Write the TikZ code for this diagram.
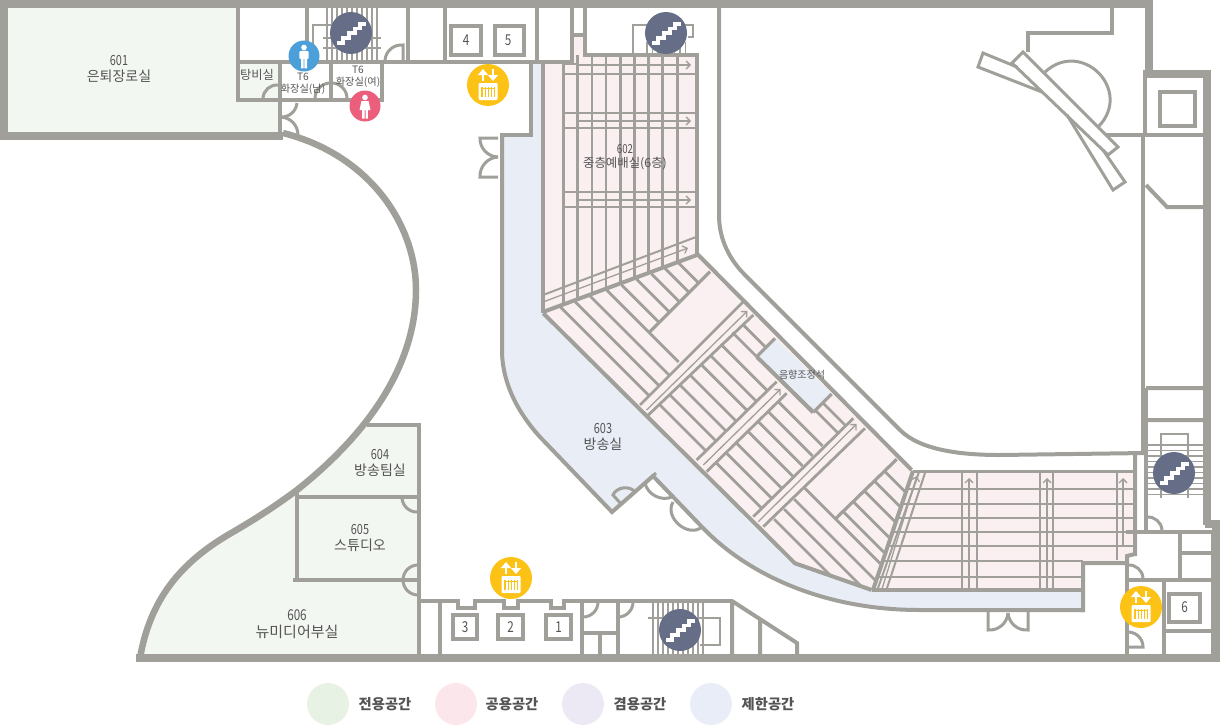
\documentclass[tikz,border=0pt]{standalone}
\usepackage{fontspec}
\setmainfont{Noto Sans CJK KR}
\newfontfamily\numfont[FakeStretch=0.78]{Noto Sans CJK KR}
\usetikzlibrary{arrows.meta}
\definecolor{wallgray}{rgb}{0.627, 0.624, 0.600}
\definecolor{textgray}{rgb}{0.33, 0.33, 0.33}
\definecolor{privatepale}{rgb}{0.953, 0.969, 0.945}
\definecolor{publicpale}{rgb}{0.984, 0.941, 0.945}
\definecolor{closedpale}{rgb}{0.910, 0.929, 0.965}
\definecolor{privatekey}{rgb}{0.910, 0.949, 0.894}
\definecolor{publickey}{rgb}{0.984, 0.902, 0.925}
\definecolor{sharedkey}{rgb}{0.925, 0.914, 0.957}
\definecolor{closedkey}{rgb}{0.910, 0.929, 0.969}
\definecolor{stairslate}{rgb}{0.400, 0.431, 0.529}
\definecolor{liftyellow}{rgb}{0.992, 0.761, 0.086}
\definecolor{manblue}{rgb}{0.298, 0.624, 0.851}
\definecolor{womanred}{rgb}{0.925, 0.373, 0.486}
\tikzset{
  outerwall/.style={draw=wallgray,line width=8pt},
  curvewall/.style={draw=wallgray,line width=6.5pt},
  midwall/.style={draw=wallgray,line width=4pt},
  thinwall/.style={draw=wallgray,line width=3pt},
  seatline/.style={draw=wallgray,line width=2.8pt},
  stairline/.style={draw=wallgray,line width=1.6pt},
  door/.style={draw=wallgray,line width=3pt},
  aislearrow/.style={draw=wallgray,line width=1.3pt,-{Straight Barb[length=4pt,width=8pt]}},
  roomlabel/.style={align=center,inner sep=0pt,text=textgray,font=\fontsize{14}{15.5}\selectfont},
  smalllabel/.style={align=center,inner sep=0pt,text=textgray,font=\fontsize{10.2}{11.5}\selectfont},
  keylabel/.style={inner sep=0pt,text=textgray,font=\fontsize{14.3}{15}\selectfont\bfseries},
  liftlabel/.style={inner sep=0pt,text=textgray,font=\fontsize{15}{15}\selectfont}
}
% Round marks, placed by their centre.
\newcommand{\stairmark}[2]{
  \begin{scope}[shift={(#1,#2)}]
    \fill[stairslate] (0,0) circle (21);
    \draw[white,line width=3.4pt] (-14,10)--(-8,10)--(-8,5)--(-2,5)--(-2,0)--(4,0)--(4,-4.5)--(9,-4.5)--(9,-9)--(15,-9);
  \end{scope}}
\newcommand{\liftmark}[2]{
  \begin{scope}[shift={(#1,#2)}]
    \fill[liftyellow] (0,0) circle (21);
    \draw[white,line width=2.8pt,-{Triangle[length=6pt,width=10pt]}] (-5,-4)--(-5,-16);
    \draw[white,line width=2.8pt,-{Triangle[length=6pt,width=10pt]}] (5,-16)--(5,-4);
    \fill[white,rounded corners=1pt] (-9.5,-2) rectangle (9.5,15);
    \fill[liftyellow] (-7,1.5) rectangle (7,12);
    \foreach \bx in {-5,-2,1,4}
      \fill[white] (\bx,4) rectangle ++(1.6,8);
    \foreach \bx in {-5,-2,1,4}
      \fill[white] (\bx,1.5) rectangle ++(1.6,1.2);
  \end{scope}}
\newcommand{\manmark}[2]{
  \begin{scope}[shift={(#1,#2)}]
    \fill[manblue] (0,0) circle (15.5);
    \fill[white] (0,-8.5) circle (2.8);
    \fill[white,rounded corners=1pt] (-4.6,-5) rectangle (4.6,3);
    \fill[white] (-3,2) rectangle (-0.4,12.5) (0.4,2) rectangle (3,12.5);
  \end{scope}}
\newcommand{\womanmark}[2]{
  \begin{scope}[shift={(#1,#2)}]
    \fill[womanred] (0,0) circle (15.5);
    \fill[white] (0,-8.5) circle (2.8);
    \fill[white] (-3.5,-5)--(3.5,-5)--(5.5,4)--(-5.5,4)--cycle;
    \fill[white] (-2.8,3) rectangle (-0.5,12.5) (0.5,3) rectangle (2.8,12.5);
  \end{scope}}
\begin{document}
\begin{tikzpicture}[x=1pt,y=-1pt]
	\useasboundingbox (0,0) rectangle (1220,725);

	% Room fills.
	\fill[privatepale] (8,8)--(236,8)--(236,100)--(280,100)--(280,132)--(8,132)--cycle;
	\fill[privatepale] (238,62) rectangle (280,100);
	\fill[privatepale] (419,425)--(367,425)--(297,490) .. controls (270,510) and (250,522) .. (233,532) .. controls (180,562) and (150,600) .. (140,658)--(419,655)--cycle;
	\fill[closedpale] (502,133)--(533,133)--(533,62)--(543,62)--(543,313)--(795,563)--(872,590)--(1082,590)--(1082,610)--(920,610) .. controls (820,610) and (745,572) .. (702,527)--(653,476)--(612,512)--(540,437) .. controls (520,415) and (502,385) .. (502,350)--cycle;
	\fill[publicpale] (543,62)--(572,62)--(572,35)--(585,35)--(585,55)--(697,55)--(697,255)--(912,470)--(1135,470)--(1135,555)--(1127,557)--(1127,563)--(1082,563)--(1082,590)--(872,590)--(795,563)--(543,313)--cycle;
	\fill[closedpale] (775,338)--(757,357)--(813,412)--(832,394)--cycle;

	% Seats of the upper block.
	\draw[seatline] (563.3,62) -- (563.3,305);
	\foreach \sx/\sy in {577.7/300,592/295,606/289,620.3/284,634.3/279,648.7/273,662.7/268,677.3/263}
		\draw[seatline] (\sx,55) -- (\sx,\sy);
	\foreach \ry in {74,113,128,192,207}
		\draw[seatline,line width=2.2pt] (563,\ry) -- (697,\ry);
	\draw[seatline,line width=2.2pt] (563,64) -- (578,64);
	\foreach \ry in {65,121,200}
		\draw[aislearrow] (578,\ry) -- (691,\ry);
	\draw[seatline,line width=2pt] (543,295) -- (696,237);
	\draw[aislearrow] (543,302) -- (688,248);
	\draw[midwall] (543,312) -- (697,255);

	% Diagonal seats, written as difference and sums of a zoomed grid.
	\begin{scope}[shift={(540,250)},x=0.3333pt,y=-0.3333pt]
		\foreach \d/\sa/\sb in {-110/230/765,-50/260/765,12/288/765,80/320/752,140/350/575,202/378/575,263/407/575,320/430/575,377/453/575,
			-105/825/1100,-45/825/1100,15/825/1100,75/825/1100,140/825/1100,195/825/1100,260/825/1100,330/825/1307,385/835/970,
			-110/1170/1435,-50/1170/1435,10/1170/1435,80/1170/1435,140/1170/1435,200/1170/1435,260/1170/1435,345/1310/1440,390/1310/1440,
			-105/1510/1849,-45/1510/1975,15/1510/1995,80/1510/1962,125/1695/1939,185/1695/1909,250/1695/1878,310/1695/1848,370/1695/1818}
			\draw[seatline] ({(\sa+\d)/2},{(\sa-\d)/2}) -- ({(\sb+\d)/2},{(\sb-\d)/2});
		% Aisles.
		\draw[seatline] (300,465)--(610,155) (325,495)--(640,195);
		\draw[seatline] (470,630)--(710,395) (500,665)--(740,430);
		\draw[seatline] (640,800)--(940,505) (670,830)--(975,535);
		\draw[aislearrow] (320,480)--(622,183);
		\draw[aislearrow] (490,645)--(722,417);
		\draw[aislearrow] (655,815)--(950,522);
		% Plain boxes among the seats.
		\draw[seatline,line width=3.2pt] (330,245)--(510,65);
		\draw[seatline,line width=3.2pt] (885,808)--(1070,628);
		\draw[seatline,line width=3.2pt] (650,320)--(705,265) (820,487)--(875,432);
		\draw[midwall] (470,10)--(1115,660);
		\draw[midwall] (10,190)--(765,940)--(995,1020);
	\end{scope}

	% Seats of the lower block.
	\foreach \ry in {489.3,504.3,518.3,531.7}
	{
		\pgfmathsetmacro\Hx{913-(\ry-471)*0.345};
		\draw[seatline,line width=2.2pt] (\Hx,\ry) -- (1135,\ry);
	}
	\foreach \ry in {545.7,561,576.7}
	{
		\pgfmathsetmacro\Hx{913-(\ry-471)*0.345};
		\draw[seatline,line width=2.2pt] (\Hx,\ry) -- (1083,\ry);
	}
	\draw[seatline,line width=2.2pt] (1083,545.7) -- (1135,545.7);
	\foreach \sx in {962,977,1040,1053}
		\draw[seatline,line width=2.2pt] (\sx,471) -- (\sx,590);
	\draw[seatline,line width=2.2pt] (1117,471) -- (1117,560);
	\foreach \sx in {969,1047}
		\draw[aislearrow] (\sx,589) -- (\sx,478);
	\draw[aislearrow] (1123,545) -- (1123,478);
	\draw[seatline,line width=2pt] (887,588) -- (925,473) (878,588) -- (919,472);
	\draw[aislearrow] (882,589) -- (917,476);
	\draw[midwall] (913,471) -- (873,590);
	\draw[thinwall] (913,471) -- (1135,471);

	% Stair treads.
	\foreach \sx in {327,332,...,378}
		\draw[stairline] (\sx,8) -- (\sx,60);
	\draw[stairline] (345,25)--(313,25)--(313,60) (323,38)--(381,38) (323,48)--(381,48);
	\foreach \sx in {647,652.5,...,686}
		\draw[stairline] (\sx,42) -- (\sx,54);
	\draw[stairline] (633,55)--(633,25)--(693,25)--(693,37)--(688,37);
	\foreach \sx in {653,658,...,707}
		\draw[stairline] (\sx,602) -- (\sx,655);
	\draw[stairline] (648,618)--(720,618)--(720,645)--(700,645);
	\foreach \sy in {445,450.5,...,499}
		\draw[stairline] (1148,\sy) -- (1204,\sy);
	\draw[stairline] (1161,498)--(1161,434)--(1188,434)--(1188,498);

	% Partition walls of the top row.
	\draw[midwall] (238,8)--(238,102) (236,100)--(282,100) (280,60)--(280,134);
	\draw[midwall] (236,62)--(531,62) (531,60)--(531,135) (533,135)--(500,135);
	\draw[midwall] (307,8)--(307,62) (382,60)--(382,102) (331,62)--(331,100) (280,100)--(384,100);
	\draw[midwall] (408,8)--(408,62) (445,8)--(445,62) (537,8)--(537,62) (530,62)--(574,62);
	\draw[midwall] (572,8)--(572,62) (574,35)--(583,35) (585,8)--(585,57) (583,55)--(699,55) (697,53)--(697,257);
	\draw[midwall] (543,60)--(543,313);
	\draw[midwall] (451,26) rectangle (481,55) (495,26) rectangle (524,55);

	% Blue room outline.
	\draw[midwall] (502,133)--(502,350) .. controls (502,385) and (520,415) .. (540,437)--(612,512)--(653,476)--(702,527) .. controls (745,572) and (820,610) .. (920,610)--(1084,610);
	\draw[midwall] (1083,612)--(1083,563) (1081,563)--(1127,563) (1127,563)--(1127,556)--(1135,554) (1135,556)--(1135,454);
	\draw[midwall] (872,590)--(1084,590);
	\draw[midwall] (757,357)--(813,412);

	% Curved inner wall of the hall.
	\draw[midwall] (719,8)--(719,215) .. controls (719,240) and (730,260) .. (745,275)--(900,430) .. controls (920,450) and (960,455) .. (1000,455)--(1146,453);

	% Right hand rooms.
	\draw[midwall] (1112,8)--(1112,33)--(1028,33)--(1028,52);
	\draw[midwall,line width=3pt] (1023,52)--(1118,147)--(1108,155)--(1012,63)--cycle;
	\draw[midwall,line width=3pt] (1017,67)--(983,53)--(978,67)--(1042,92);
	\draw[midwall,line width=3pt] (1067,115)--(1113,190)--(1125,182)--(1103,150);
	\draw[midwall,line width=3pt] (1045,72) .. controls (1082,38) and (1134,91) .. (1098,127);
	\draw[midwall] (1106,135)--(1146,135);
	\draw[midwall] (1145,75)--(1145,135) (1143,135)--(1143,455) (1145,135)--(1205,135) (1146,388)--(1146,530);
	\draw[midwall] (1160,92) rectangle (1195,126);
	\draw[midwall] (1146,185)--(1167,207)--(1205,207) (1146,388)--(1205,388) (1146,420)--(1205,420);
	\draw[midwall] (1126,532)--(1212,532) (1180,532)--(1180,580) (1180,553)--(1212,553) (1127,580)--(1212,580);
	\draw[midwall] (1127,556)--(1127,655) (1164,580)--(1164,655) (1164,631)--(1212,631) (1213,532)--(1213,655);
	\draw[midwall] (1169,594) rectangle (1200,622);

	% Rooms down the left.
	\draw[midwall] (367,425)--(421,425) (419,423)--(419,655);
	\draw[midwall] (297,490)--(297,582) (295,497)--(419,497) (293,580)--(419,580);

	% Bottom row.
	\draw[midwall] (418,601)--(458,601)--(458,608)--(475,608)--(475,601)--(504,601)--(504,608)--(518,608)--(518,601)--(551,601)--(551,608)--(564,608)--(564,601)--(733,601);
	\draw[midwall] (440,601)--(440,655) (582,601)--(582,655) (618,601)--(618,655) (582,633)--(618,633) (600,633)--(600,655);
	\draw[midwall] (732,601)--(732,655) (760,620)--(760,655) (732,601)--(797,643)--(797,655);
	\draw[midwall] (453,615) rectangle (477,639) (498,615) rectangle (523,639) (546,615) rectangle (571,639);

	% Doors.
	\draw[door] (263,98) to[bend left=45] (278,85);
	\draw[door] (297,103) to[bend left=45] (280,117);
	\draw[door] (280,117) to[bend left=45] (298,135);
	\draw[door] (315,98) to[bend left=45] (331,83);
	\draw[door] (331,83) to[bend left=45] (347,98);
	\draw[door] (385,60) to[bend left=45] (403,45) -- (403,62);
	\draw[door] (498,138) -- (480,138) to[bend right=45] (498,157);
	\draw[door] (498,157) to[bend right=45] (480,177) -- (498,177);
	\draw[door] (988,610) -- (988,630) to[bend right=45] (1008,613);
	\draw[door] (1008,613) to[bend right=45] (1028,630) -- (1028,610);
	\draw[door] (1147,517) to[bend left=45] (1162,530);
	\draw[door] (1128,565) to[bend left=45] (1143,578);
	\draw[door] (1128,632) to[bend left=45] (1143,647) -- (1128,647);
	\draw[door] (583,617) to[bend right=45] (598,602);
	\draw[door] (618,617) to[bend right=45] (633,602);
	\draw[door] (402,498) to[bend right=45] (418,512);
	\draw[door] (418,565) to[bend right=45] (403,580);
	\draw[door] (403,580) to[bend right=45] (418,595);
	\draw[door] (622,505) -- (613,495) to[bend left=60] (635,492);
	\draw[door] (656,473) -- (645,483) to[bend right=50] (672,497);
	\draw[door] (673,502) to[bend right=80,looseness=1.2] (702,527);

	% Outer walls.
	\draw[curvewall] (283,133) .. controls (370,155) and (416,225) .. (416,290) .. controls (416,350) and (385,420) .. (297,490) .. controls (270,510) and (250,522) .. (233,532) .. controls (180,562) and (150,600) .. (140,658);
	\draw[outerwall] (0,136)--(4,136)--(4,4)--(1149,4)--(1149,72) (0,136)--(283,136);
	\draw[outerwall] (1143,74)--(1211,74) (1207,70)--(1207,525);
	\draw[outerwall] (1205,524)--(1220,524) (1216,520)--(1216,662);
	\draw[outerwall] (136,658)--(1220,658);

	% Marks.
	\stairmark{351}{33}
	\stairmark{666}{33}
	\stairmark{680}{630}
	\stairmark{1174}{473}
	\liftmark{488}{85}
	\liftmark{511}{578}
	\liftmark{1141}{607}
	\manmark{304}{56}
	\womanmark{365}{106}

	% Room names.
	\node (room601) at (119,69) [roomlabel] {{\numfont 601}\\은퇴장로실};
	\node (pantry) at (257,75) [roomlabel,font=\fontsize{12.3}{14}\selectfont] {탕비실};
	\node (toiletm) at (303,84) [smalllabel] {T6\\화장실(남)};
	\node (toiletw) at (358,77) [smalllabel] {T6\\화장실(여)};
	\node (room602) at (625,157) [roomlabel,font=\fontsize{12.4}{14}\selectfont] {{\numfont 602}\\중층예배실(6층)};
	\node (room603) at (603,437) [roomlabel] {{\numfont 603}\\방송실};
	\node (soundbooth) at (802,375) [smalllabel,font=\fontsize{10}{11.5}\selectfont] {음향조정석};
	\node (room604) at (380,463) [roomlabel] {{\numfont 604}\\방송팀실};
	\node (room605) at (360,538) [roomlabel] {{\numfont 605}\\스튜디오};
	\node (room606) at (297,624) [roomlabel,font=\fontsize{15}{16.5}\selectfont] {{\numfont 606}\\뉴미디어부실};

	% Lift numbers.
	\node (lift1) at (558.5,627) [liftlabel] {{\numfont 1}};
	\node (lift2) at (510.5,627) [liftlabel] {{\numfont 2}};
	\node (lift3) at (465,627) [liftlabel] {{\numfont 3}};
	\node (lift4) at (466,40) [liftlabel] {{\numfont 4}};
	\node (lift5) at (508,40) [liftlabel] {{\numfont 5}};
	\node (lift6) at (1184.5,607) [liftlabel] {{\numfont 6}};

	% Key at the foot of the plan.
	\fill[privatekey] (328,704) circle (21);
	\fill[publickey] (456,704) circle (21);
	\fill[sharedkey] (583,704) circle (21);
	\fill[closedkey] (711,704) circle (21);
	\node (keyprivate) at (385,704) [keylabel] {전용공간};
	\node (keypublic) at (512,704) [keylabel] {공용공간};
	\node (keyshared) at (640,704) [keylabel] {겸용공간};
	\node (keyclosed) at (768,704) [keylabel] {제한공간};
\end{tikzpicture}
\end{document}
